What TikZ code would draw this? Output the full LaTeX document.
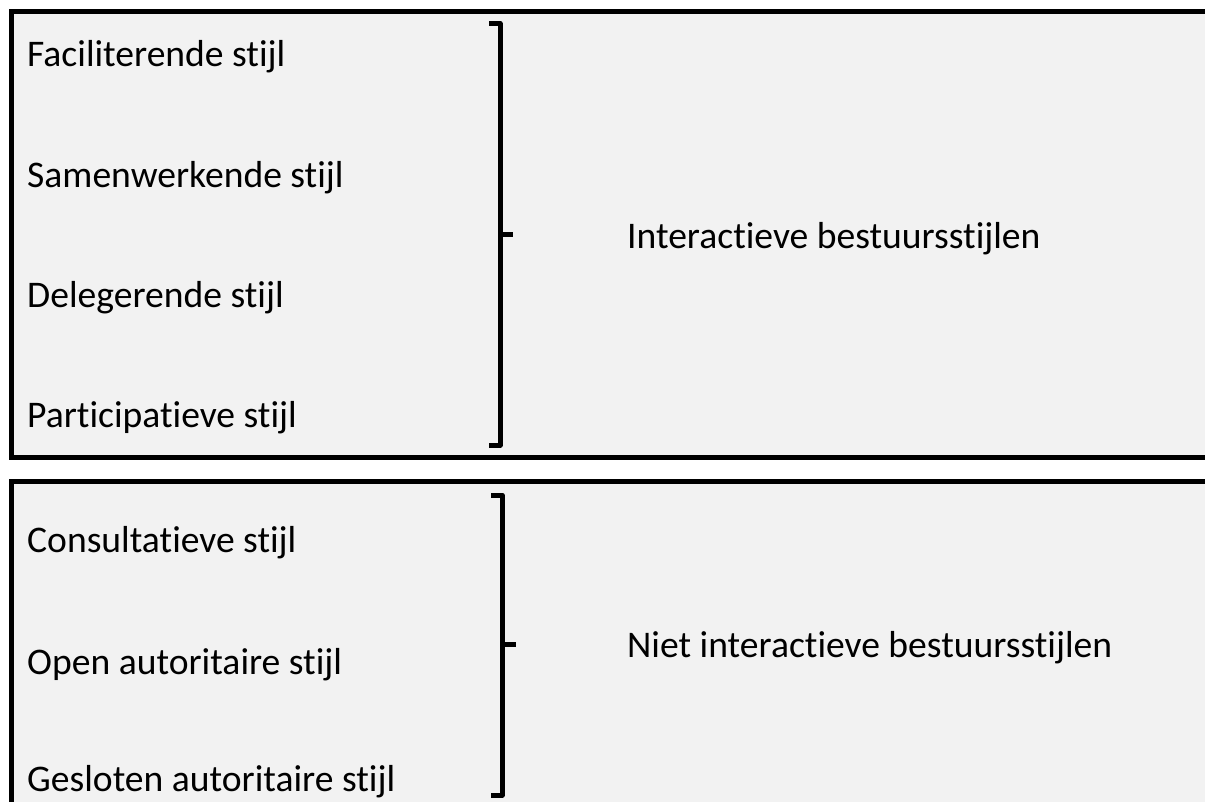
\documentclass[tikz,border=0pt]{standalone}
\usepackage{fontspec}
\setmainfont{Carlito}[Ligatures={NoCommon}]
\definecolor{boxfill}{HTML}{F2F2F2}
\begin{document}
\begin{tikzpicture}[x=1pt,y=-1pt,
  panel/.style={draw=black,line width=5pt,fill=boxfill},
  brace/.style={draw=black,line width=5pt,line join=round,line cap=butt},
  item/.style={anchor=base west,inner sep=0pt,font=\fontsize{37.6}{42}\selectfont},
  label/.style={anchor=base west,inner sep=0pt,font=\fontsize{37.6}{42}\selectfont}]
\useasboundingbox (0,0) rectangle (1205,801);
\fill[white] (0,0) rectangle (1205,801);
% panels
\draw[panel] (11,11.5) rectangle (1220,457.5);
\draw[panel] (11,481.5) rectangle (1220,830);
% top items
\node[item] (fac) at (27,66) {Faciliterende stijl};
\node[item] (sam) at (27,187) {Samenwerkende stijl};
\node[item] (del) at (27,307) {Delegerende stijl};
\node[item] (par) at (27,427) {Participatieve stijl};
\node[label] (int) at (627,248) {Interactieve bestuursstijlen};
% top bracket
\draw[brace] (489,23.5) -- (500,23.5) -- (500,445) -- (489,445);
\draw[brace] (500,234) -- (513,234);
% bottom items
\node[item] (con) at (27,552) {Consultatieve stijl};
\node[item] (ope) at (27,674) {Open autoritaire stijl};
\node[item] (ges) at (27,791) {Gesloten autoritaire stijl};
\node[label] (niet) at (627,657) {Niet interactieve bestuursstijlen};
% bottom bracket
\draw[brace] (491,495) -- (502,495) -- (502,795) -- (491,795);
\draw[brace] (502,644) -- (516,644);
\end{tikzpicture}
\end{document}
